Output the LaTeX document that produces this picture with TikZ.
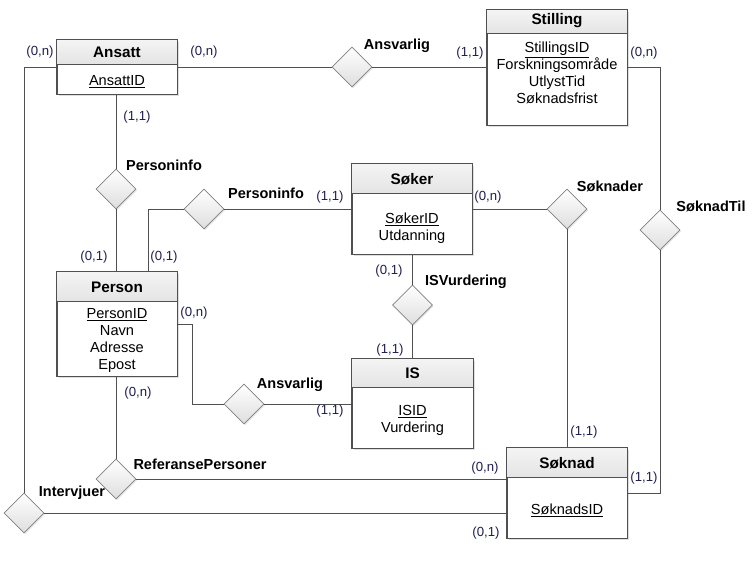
\documentclass[tikz,border=0pt]{standalone}
\usepackage{fontspec}
\setmainfont{Liberation Sans}
\usetikzlibrary{shapes.geometric,shadows}
\definecolor{linec}{RGB}{80,80,80}
\definecolor{cardc}{RGB}{30,30,80}
\definecolor{hdrtop}{RGB}{244,244,244}
\definecolor{hdrbot}{RGB}{228,228,228}
\definecolor{diabot}{RGB}{222,222,222}
\definecolor{diaedge}{RGB}{128,128,128}
\tikzset{
  ebox/.style={draw=linec, line width=0.8pt, fill=white, rectangle, inner sep=0,
    drop shadow={shadow xshift=1.5pt, shadow yshift=-1.5pt, opacity=0.25, fill=gray}},
  hdr/.style={top color=hdrtop, bottom color=hdrbot},
  etitle/.style={font=\fontsize{15.3}{17}\selectfont\bfseries, inner sep=0},
  attr/.style={font=\fontsize{14.6}{17}\selectfont, align=center, inner sep=0},
  rel/.style={diamond, draw=diaedge, line width=0.6pt, minimum width=40pt, minimum height=40pt,
    inner sep=0, top color=white, bottom color=diabot,
    drop shadow={shadow xshift=1.2pt, shadow yshift=-1.2pt, opacity=0.2, fill=gray}},
  rlabel/.style={font=\fontsize{14.5}{16}\selectfont\bfseries, inner sep=0},
  card/.style={font=\fontsize{13.2}{15}\selectfont, text=cardc, inner sep=0},
  conn/.style={draw=linec, line width=0.8pt},
}
\newcommand{\uline}[1]{\underline{#1}}
\begin{document}
\begin{tikzpicture}[x=1pt,y=-1pt]
\useasboundingbox (0,0) rectangle (754,566);

% ---------- entities ----------
% Ansatt
\node[ebox, minimum width=120pt, minimum height=54pt] (ansatt) at (117,67) {};
\fill[hdr] (ansatt.north west) rectangle ([yshift=-25pt]ansatt.north east);
\draw[linec, line width=0.8pt] (ansatt.north west) rectangle (ansatt.south east);
\draw[linec, line width=0.8pt] ([yshift=-25pt]ansatt.north west) -- ([yshift=-25pt]ansatt.north east);
\node[etitle] (ansattT) at (117,52) {Ansatt};
\node[attr] (ansattA) at (117,81.5) {\uline{AnsattID}};

% Stilling
\node[ebox, minimum width=140pt, minimum height=115pt] (stilling) at (557,67.5) {};
\fill[hdr] (stilling.north west) rectangle ([yshift=-24pt]stilling.north east);
\draw[linec, line width=0.8pt] (stilling.north west) rectangle (stilling.south east);
\draw[linec, line width=0.8pt] ([yshift=-24pt]stilling.north west) -- ([yshift=-24pt]stilling.north east);
\node[etitle] (stillingT) at (557,21) {Stilling};
\node[attr, anchor=north] (stillingA) at (557,41.5) {\uline{StillingsID}\\Forskningsområde\\UtlystTid\\Søknadsfrist};

% Søker
\node[ebox, minimum width=120pt, minimum height=90pt] (soker) at (412,209) {};
\fill[hdr] (soker.north west) rectangle ([yshift=-30pt]soker.north east);
\draw[linec, line width=0.8pt] (soker.north west) rectangle (soker.south east);
\draw[linec, line width=0.8pt] ([yshift=-30pt]soker.north west) -- ([yshift=-30pt]soker.north east);
\node[etitle] (sokerT) at (412,179) {Søker};
\node[attr, anchor=north] (sokerA) at (412,212.5) {\uline{SøkerID}\\Utdanning};

% Person
\node[ebox, minimum width=120pt, minimum height=104pt] (person) at (117,324) {};
\fill[hdr] (person.north west) rectangle ([yshift=-30pt]person.north east);
\draw[linec, line width=0.8pt] (person.north west) rectangle (person.south east);
\draw[linec, line width=0.8pt] ([yshift=-30pt]person.north west) -- ([yshift=-30pt]person.north east);
\node[etitle] (personT) at (117,287) {Person};
\node[attr, anchor=north] (personA) at (117,308.5) {\uline{PersonID}\\Navn\\Adresse\\Epost};

% IS
\node[ebox, minimum width=121pt, minimum height=89pt] (is) at (412.5,403.5) {};
\fill[hdr] (is.north west) rectangle ([yshift=-29pt]is.north east);
\draw[linec, line width=0.8pt] (is.north west) rectangle (is.south east);
\draw[linec, line width=0.8pt] ([yshift=-29pt]is.north west) -- ([yshift=-29pt]is.north east);
\node[etitle] (isT) at (412.5,373) {IS};
\node[attr, anchor=north] (isA) at (412.5,405.5) {\uline{ISID}\\Vurdering};

% Søknad
\node[ebox, minimum width=120pt, minimum height=90pt] (soknad) at (567,493) {};
\fill[hdr] (soknad.north west) rectangle ([yshift=-30pt]soknad.north east);
\draw[linec, line width=0.8pt] (soknad.north west) rectangle (soknad.south east);
\draw[linec, line width=0.8pt] ([yshift=-30pt]soknad.north west) -- ([yshift=-30pt]soknad.north east);
\node[etitle] (soknadT) at (567,463) {Søknad};
\node[attr] (soknadA) at (567,510) {\uline{SøknadsID}};

% ---------- relationships ----------
\node[rel] (ansv1) at (352,67) {};
\node[rel] (pinfo1) at (116,189) {};
\node[rel] (pinfo2) at (204,209) {};
\node[rel] (soknader) at (567,209) {};
\node[rel] (soknadtil) at (660,230) {};
\node[rel] (isv) at (412.5,305) {};
\node[rel] (ansv2) at (244,404) {};
\node[rel] (refp) at (116,479) {};
\node[rel] (intervjuer) at (24,513) {};

% ---------- connectors ----------
\path[conn] (ansatt.east) -- (ansv1.west);
\path[conn] (ansv1.east) -- (ansv1.east -| stilling.west);
\path[conn] (stilling.east) -| (soknadtil.north);
\path[conn] (soknadtil.south) |- (soknad.east);
\path[conn] (ansatt.west) -| (intervjuer.north);
\path[conn] (intervjuer.east) -- (intervjuer.east -| soknad.west);
\path[conn] (pinfo1.north |- ansatt.south) -- (pinfo1.north);
\path[conn] (pinfo1.south) -- (pinfo1.south |- person.north);
\coordinate (p2top) at ([xshift=31pt]person.north);
\path[conn] (pinfo2.west) -| (p2top);
\path[conn] (pinfo2.east) -- (pinfo2.east -| soker.west);
\path[conn] (soker.east) -- (soknader.west);
\path[conn] (soknader.south) -- (soknader.south |- soknad.north);
\path[conn] (isv.north |- soker.south) -- (isv.north);
\path[conn] (isv.south) -- (isv.south |- is.north);
\coordinate (pbend) at ([xshift=15pt]person.east);
\path[conn] (person.east) -- (pbend) |- (ansv2.west);
\path[conn] (ansv2.east) -- (ansv2.east -| is.west);
\path[conn] (refp.north |- person.south) -- (refp.north);
\path[conn] (refp.east) -- (refp.east -| soknad.west);

% ---------- relationship labels ----------
\node[rlabel] (l1) at (397,46) {Ansvarlig};
\node[rlabel] (l2) at (164,165) {Personinfo};
\node[rlabel] (l3) at (266,193) {Personinfo};
\node[rlabel] (l4) at (610,186) {Søknader};
\node[rlabel] (l5) at (711,206) {SøknadTil};
\node[rlabel] (l6) at (466,282) {ISVurdering};
\node[rlabel] (l7) at (290,385) {Ansvarlig};
\node[rlabel] (l8) at (200,464) {ReferansePersoner};
\node[rlabel] (l9) at (72,493) {Intervjuer};

% ---------- cardinalities ----------
\node[card] (c1) at (40,52) {(0,n)};
\node[card] (c2) at (204,52) {(0,n)};
\node[card] (c3) at (470,53) {(1,1)};
\node[card] (c4) at (644,53) {(0,n)};
\node[card] (c5) at (137,117) {(1,1)};
\node[card] (c6) at (330,197) {(1,1)};
\node[card] (c7) at (488,197) {(0,n)};
\node[card] (c8) at (94,257) {(0,1)};
\node[card] (c9) at (164,257) {(0,1)};
\node[card] (c10) at (389,271) {(0,1)};
\node[card] (c11) at (194,313) {(0,n)};
\node[card] (c12) at (390,350) {(1,1)};
\node[card] (c13) at (138,393) {(0,n)};
\node[card] (c14) at (330,411) {(1,1)};
\node[card] (c15) at (584,432) {(1,1)};
\node[card] (c16) at (485,468) {(0,n)};
\node[card] (c17) at (644,478) {(1,1)};
\node[card] (c18) at (486,533) {(0,1)};
\end{tikzpicture}
\end{document}
